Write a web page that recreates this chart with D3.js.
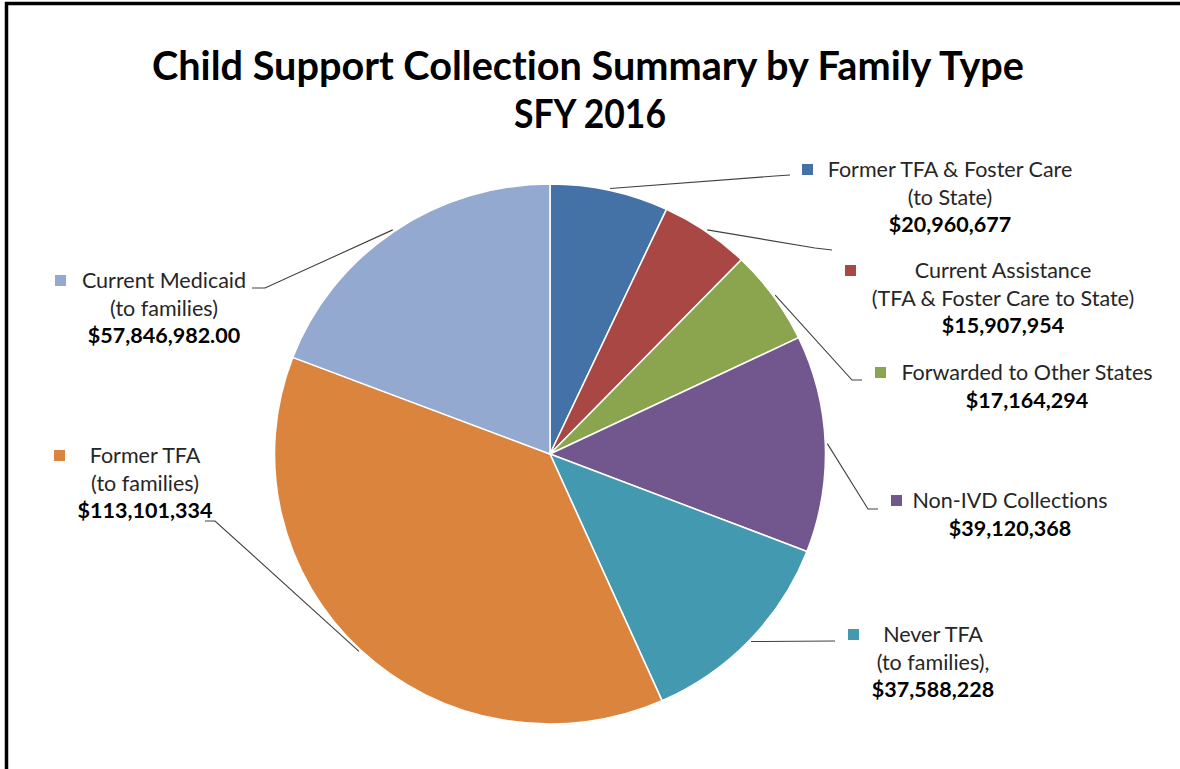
<!DOCTYPE html>
<html>
<head>
<meta charset="utf-8">
<script src="https://cdn.jsdelivr.net/npm/d3@7"></script>
<style>
  body { margin: 0; background: #fff; }
  svg text { font-family: Lato, "Open Sans", sans-serif; font-variant-ligatures: none; }
</style>
</head>
<body>
<svg class="chart"></svg>
<script>
var width = 1180;
var height = 769;

// data, clockwise from 12 o'clock
var categories = ['Former TFA & Foster Care (to State)', 'Current Assistance (TFA & Foster Care to State)',
  'Forwarded to Other States', 'Non-IVD Collections', 'Never TFA (to families)',
  'Former TFA (to families)', 'Current Medicaid (to families)'];
var values = [20960677, 15907954, 17164294, 39120368, 37588228, 113101334, 57846982];
var valueLabels = ['$20,960,677', '$15,907,954', '$17,164,294', '$39,120,368', '$37,588,228', '$113,101,334', '$57,846,982.00'];
var labelLines = [
  ['Former TFA & Foster Care', '(to State)'],
  ['Current Assistance', '(TFA & Foster Care to State)'],
  ['Forwarded to Other States'],
  ['Non-IVD Collections'],
  ['Never TFA', '(to families),'],
  ['Former TFA', '(to families)'],
  ['Current Medicaid', '(to families)']
];
var colors = ['#4472a6', '#a94744', '#8aa54e', '#71578e', '#4299b0', '#db843d', '#94a9cf'];

// where each data label sits (text centre, first baseline, marker x, leader bend points)
var layout = [
  {cx: 950, y: 177, mx: 802, bend: [[775, 176], [790, 175]]},
  {cx: 1003, y: 278, mx: 845, bend: [[815, 248], [832, 250]]},
  {cx: 1027, y: 380, mx: 875, bend: [[852, 380], [862, 380]]},
  {cx: 1010, y: 508, mx: 891, bend: [[868, 509], [878, 509]]},
  {cx: 933, y: 642, mx: 848, bend: [[835, 641]]},
  {cx: 145, y: 463, mx: 54, bend: [[215, 521], [205, 521]]},
  {cx: 164, y: 288, mx: 55, bend: [[265, 288], [252, 288]]}
];

var center = {x: 550, y: 454};
var radius = 270;
var stretchX = 275.5 / 270; // the picture is a little wider than tall
var lineGap = 27.5;
var fontSize = 21.5;

var chart = d3.select('.chart')
  .attr('width', width)
  .attr('height', height);

// frame (only top and left edges are in view)
chart.append('path')
  .attr('d', 'M5,3.5 H1180 M6.5,2 V769')
  .attr('stroke', '#000')
  .attr('stroke-width', 3.5)
  .attr('fill', 'none');

// title
var title = chart.append('g').attr('font-weight', 'bold').attr('fill', '#000')
  .attr('font-size', 41).attr('text-anchor', 'middle');
title.append('text').attr('x', 588).attr('y', 80)
  .attr('textLength', 872).attr('lengthAdjust', 'spacingAndGlyphs')
  .text('Child Support Collection Summary by Family Type');
title.append('text').attr('x', 590).attr('y', 128)
  .attr('textLength', 152).attr('lengthAdjust', 'spacingAndGlyphs')
  .text('SFY 2016');

var pie = d3.pie().sort(null).value(function(d) { return d; });
var arcs = pie(values);

var arc = d3.arc().innerRadius(0).outerRadius(radius);
var edge = d3.arc().innerRadius(radius + 2).outerRadius(radius + 2);

var g = chart.append('g')
  .attr('transform', 'translate(' + center.x + ',' + center.y + ') scale(' + stretchX + ',1)');

g.selectAll('path.slice')
  .data(arcs)
  .join('path')
    .attr('class', 'slice')
    .attr('d', arc)
    .attr('fill', function(d, i) { return colors[i]; })
    .attr('stroke', '#fff')
    .attr('stroke-width', 1.5)
    .attr('stroke-linejoin', 'round');

// leader lines
var line = d3.line();
chart.selectAll('path.leader')
  .data(arcs)
  .join('path')
    .attr('class', 'leader')
    .attr('d', function(d, i) {
      var c = edge.centroid(d);
      var pts = [[c[0] * stretchX + center.x, c[1] + center.y]].concat(layout[i].bend);
      return line(pts);
    })
    .attr('fill', 'none')
    .attr('stroke', '#404040')
    .attr('stroke-width', 1.1);

// data labels
var labels = chart.selectAll('g.label')
  .data(arcs)
  .join('g')
    .attr('class', 'label');

labels.append('rect')
  .attr('x', function(d, i) { return layout[i].mx; })
  .attr('y', function(d, i) { return layout[i].y - 13; })
  .attr('width', 11)
  .attr('height', 11)
  .attr('fill', function(d, i) { return colors[i]; });

labels.each(function(d, i) {
  var lab = d3.select(this);
  var lines = labelLines[i];
  lines.forEach(function(t, k) {
    lab.append('text')
      .attr('x', layout[i].cx)
      .attr('y', layout[i].y + k * lineGap)
      .attr('text-anchor', 'middle')
      .attr('font-size', fontSize)
      .attr('fill', '#262626')
      .text(t);
  });
  lab.append('text')
    .attr('x', layout[i].cx)
    .attr('y', layout[i].y + lines.length * lineGap)
    .attr('text-anchor', 'middle')
    .attr('font-size', fontSize)
    .attr('font-weight', 'bold')
    .attr('fill', '#000')
    .text(valueLabels[i]);
});
</script>
</body>
</html>
